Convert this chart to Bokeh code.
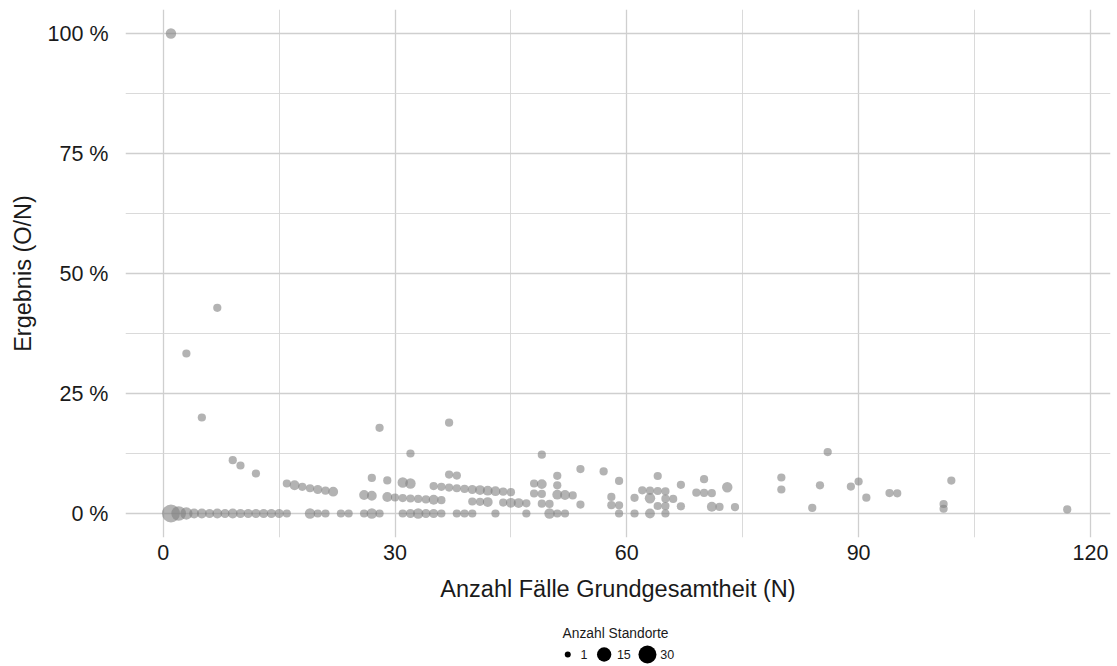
import math
from bokeh.plotting import figure
from bokeh.models import Range1d, FixedTicker
from bokeh.layouts import column
from bokeh.embed import file_html
from bokeh.resources import INLINE
from bokeh.core.properties import value

# ---------------- data ----------------
# N = Anzahl Fälle Grundgesamtheit, O = Anzahl Fälle mit Ereignis, standorte = Anzahl Standorte
N = [1, 1, 2, 3, 3, 4, 5, 5, 6, 7, 7, 8, 9, 9, 10, 10, 11, 12, 12, 13, 14, 15,
     16, 16, 17, 18, 19, 19, 20, 20, 21, 21, 22, 23, 24, 26, 26,
     27, 27, 27, 28, 28, 29, 29, 30, 31, 31, 31, 32, 32, 32, 32, 33, 33,
     34, 34, 35, 35, 35, 36, 36, 36, 37, 37, 37, 38, 38, 38, 39, 39,
     40, 40, 40, 41, 41, 42, 42, 43, 43, 44, 44, 45, 45, 46, 47, 47,
     48, 48, 49, 49, 49, 49, 50, 50, 51, 51, 51, 51, 52, 52, 53, 54, 54,
     57, 58, 58, 59, 59, 59, 61, 61, 62, 63, 63, 63, 64, 64, 64,
     65, 65, 65, 65, 66, 67, 67, 69, 70, 70, 71, 71, 72, 73, 74,
     80, 80, 84, 85, 86, 89, 90, 91, 94, 95, 101, 101, 102, 117]
O = [1, 0, 0, 1, 0, 0, 1, 0, 0, 3, 0, 0, 1, 0, 1, 0, 0, 1, 0, 0, 0, 0,
     1, 0, 1, 1, 1, 0, 1, 0, 1, 0, 1, 0, 0, 1, 0,
     2, 1, 0, 5, 0, 2, 1, 1, 2, 1, 0, 4, 2, 1, 0, 1, 0,
     1, 0, 2, 1, 0, 2, 1, 0, 7, 3, 2, 3, 2, 0, 2, 0,
     2, 1, 0, 2, 1, 2, 1, 2, 0, 2, 1, 2, 1, 1, 1, 0,
     3, 2, 6, 3, 2, 1, 1, 0, 4, 3, 2, 0, 2, 0, 2, 5, 1,
     5, 2, 1, 4, 1, 0, 2, 0, 3, 3, 2, 0, 5, 3, 1,
     3, 2, 1, 0, 2, 4, 1, 3, 5, 3, 3, 1, 1, 4, 1,
     6, 4, 1, 5, 11, 5, 6, 3, 4, 4, 2, 1, 7, 1]
standorte = [5, 30, 16, 2, 9, 4, 2, 4, 3, 2, 4, 3, 2, 4, 2, 3, 3, 2, 3, 3, 3, 3,
             2, 2, 4, 2, 2, 5, 3, 2, 2, 2, 4, 2, 2, 4, 2,
             2, 4, 5, 2, 2, 2, 4, 2, 5, 2, 2, 2, 5, 2, 3, 2, 5,
             2, 3, 2, 4, 3, 2, 2, 2, 2, 2, 2, 2, 2, 2, 2, 2,
             3, 2, 2, 4, 2, 4, 4, 4, 2, 2, 2, 2, 4, 4, 2, 2,
             2, 2, 2, 4, 2, 2, 2, 5, 2, 2, 4, 2, 4, 2, 2, 2, 2,
             2, 2, 2, 2, 2, 2, 2, 2, 2, 2, 5, 4, 2, 2, 2,
             2, 2, 2, 2, 2, 2, 2, 2, 2, 2, 2, 4, 2, 5, 2,
             2, 2, 2, 2, 2, 2, 2, 2, 2, 2, 2, 2, 2, 2]

x_ticks = [0, 30, 60, 90, 120]
x_minor = [15, 45, 75, 105]
y_ticks = [0, 25, 50, 75, 100]
y_minor = [12.5, 37.5, 62.5, 87.5]
y_tick_labels = ["0 %", "25 %", "50 %", "75 %", "100 %"]
legend_breaks = [1, 15, 30]
legend_title = "Anzahl Standorte"
x_title = "Anzahl Fälle Grundgesamtheit (N)"
y_title = "Ergebnis (O/N)"

# ---------------- helpers ----------------
FONT = "Liberation Sans"
TXT = "#1a1a1a"
S_MIN, S_MAX = 5.5, 17.5
c_lo, c_hi = min(legend_breaks), max(legend_breaks)


def size_px(c):
    return S_MIN + (S_MAX - S_MIN) * math.sqrt(max(c - c_lo, 0) / (c_hi - c_lo))


pct = [100.0 * o / n for o, n in zip(O, N)]
sizes = [size_px(c) + 0.5 for c in standorte]

W = 1117
MAIN_H = 612
LEG_H = 54
BL, BR = 125, 7

# ---------------- main figure ----------------
p = figure(width=W, height=MAIN_H,
           x_range=Range1d(-4.88, 122.6), y_range=Range1d(-5, 105),
           output_backend="svg", toolbar_location=None,
           min_border_left=BL, min_border_right=BR,
           min_border_top=9, min_border_bottom=75)
p.outline_line_color = None
p.background_fill_color = "white"
p.border_fill_color = "white"

p.scatter(N, pct, size=sizes, fill_color="#808080", fill_alpha=0.6,
          line_color=None)

p.xaxis.ticker = FixedTicker(ticks=x_ticks, minor_ticks=x_minor)
p.yaxis.ticker = FixedTicker(ticks=y_ticks, minor_ticks=y_minor)
p.yaxis.major_label_overrides = {t: l for t, l in zip(y_ticks, y_tick_labels)}
p.xaxis.axis_label = x_title
p.yaxis.axis_label = y_title

for ax in p.axis:
    ax.axis_line_color = None
    ax.major_tick_line_color = None
    ax.minor_tick_line_color = None
    ax.major_label_text_font = FONT
    ax.major_label_text_font_size = "21.5px"
    ax.major_label_text_color = TXT
    ax.axis_label_text_font = FONT
    ax.axis_label_text_font_size = "23.5px"
    ax.axis_label_text_font_style = "normal"
    ax.axis_label_text_color = TXT

p.xaxis.major_label_standoff = 1
p.xaxis.axis_label_standoff = 13
p.yaxis.major_label_standoff = 11
p.yaxis.axis_label_standoff = 9

for g in (p.xgrid, p.ygrid):
    g.grid_line_color = "#cfcfcf"
    g.grid_line_width = 1.3
    g.minor_grid_line_color = "#d6d6d6"
    g.minor_grid_line_width = 0.9

# ---------------- legend figure (frame aligned with main frame, page-pixel coords) ----------------
lf = figure(width=W, height=LEG_H, x_range=Range1d(BL, W - BR), y_range=Range1d(LEG_H, 0),
            output_backend="svg", toolbar_location=None,
            min_border_left=BL, min_border_right=BR, min_border_top=0, min_border_bottom=0)
lf.outline_line_color = None
lf.axis.visible = False
lf.grid.visible = False

center = 616
key_w = S_MAX
digit_w = 6.9
lab_w = [digit_w * len(str(b)) for b in legend_breaks]
total = sum(key_w + 4 + w for w in lab_w) + 8 * (len(legend_breaks) - 1)
x = center - total / 2
kx, lx = [], []
for w in lab_w:
    kx.append(x + key_w / 2)
    lx.append(x + key_w + 4)
    x += key_w + 4 + w + 8

key_y = 42
lf.scatter(kx, [key_y] * len(kx), size=[size_px(b) + 0.5 for b in legend_breaks],
           fill_color="black", line_color=None)
lf.text(lx, [key_y] * len(lx), text=[str(b) for b in legend_breaks],
        text_font=value(FONT), text_font_size="12.5px", text_align="left",
        text_baseline="middle", text_color=TXT)
lf.text([center - 1], [21], text=[legend_title], text_font=value(FONT),
        text_font_size="13.8px", text_align="center", text_baseline="middle",
        text_color=TXT)

layout = column(p, lf, spacing=0)
open("out.html", "w").write(file_html(layout, INLINE))
